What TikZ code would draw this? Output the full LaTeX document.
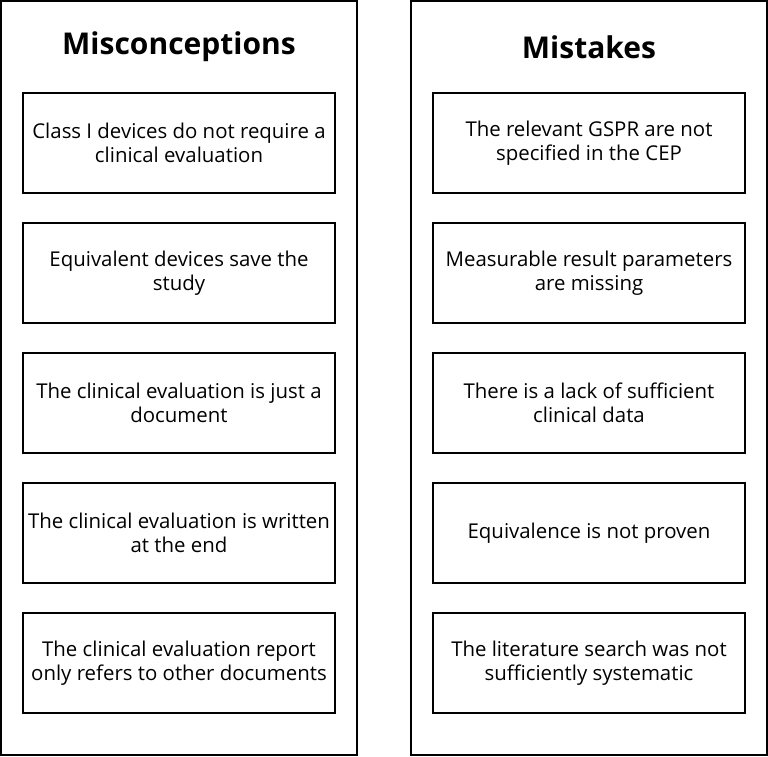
\documentclass[tikz,border=0pt]{standalone}
\usepackage{fontspec}
\setmainfont{Open Sans}
\begin{document}
\begin{tikzpicture}[x=1pt,y=-1pt,
  panel/.style={draw=black,line width=1.5pt,fill=white},
  item/.style={draw=black,line width=1.5pt,fill=white,minimum width=312pt,minimum height=100pt,align=center,font=\fontsize{20.4}{23.5}\selectfont,inner sep=0pt},
  ttl/.style={font=\fontsize{30}{34}\selectfont\bfseries}]
\useasboundingbox (0,0) rectangle (768,756);
\draw[panel] (1,1) rectangle (357,755);
\draw[panel] (411,1) rectangle (767,755);
\node[ttl] (t1) at (179,47) {Misconceptions};
\node[ttl] (t2) at (589,47) {Mistakes};
\node[item] (a1) at (179,143) {Class I devices do not require a\\clinical evaluation};
\node[item] (a2) at (179,273) {Equivalent devices save the\\study};
\node[item] (a3) at (179,403) {The clinical evaluation is just a\\document};
\node[item] (a4) at (179,533) {The clinical evaluation is written\\at the end};
\node[item] (a5) at (179,663) {The clinical evaluation report\\only refers to other documents};
\node[item] (b1) at (589,143) {The relevant GSPR are not\\specified in the CEP};
\node[item] (b2) at (589,273) {Measurable result parameters\\are missing};
\node[item] (b3) at (589,403) {There is a lack of sufficient\\clinical data};
\node[item] (b4) at (589,533) {Equivalence is not proven};
\node[item] (b5) at (589,663) {The literature search was not\\sufficiently systematic};
\end{tikzpicture}
\end{document}
